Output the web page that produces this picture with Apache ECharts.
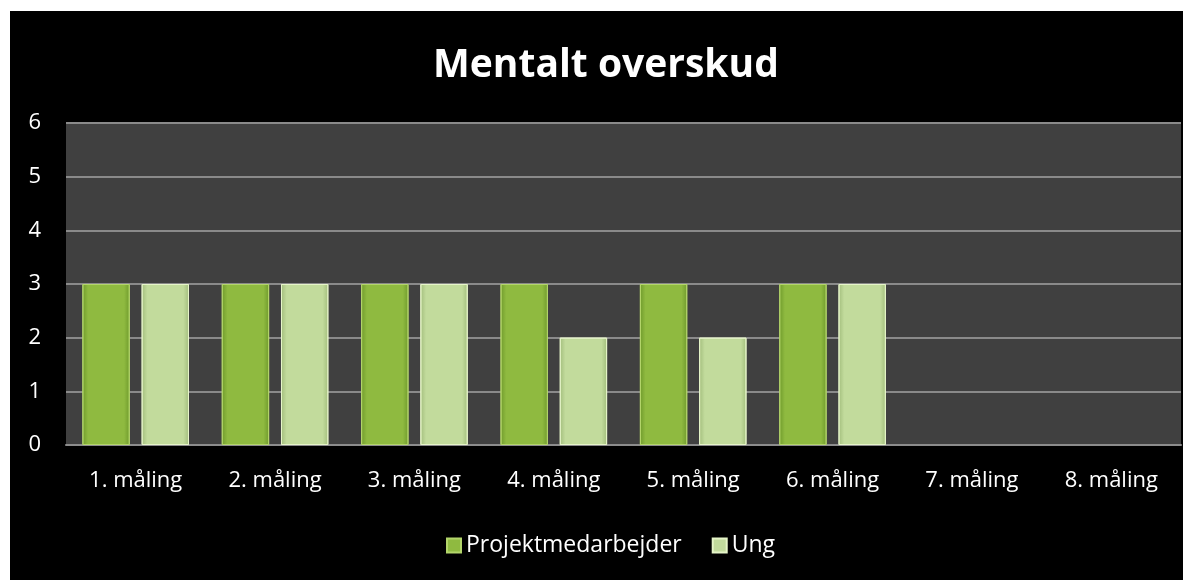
<!DOCTYPE html>
<html>
<head>
<meta charset="utf-8">
<script src="https://cdn.jsdelivr.net/npm/echarts@6/dist/echarts.min.js"></script>
<style>
  html, body { margin: 0; padding: 0; background: #ffffff; }
  #chart { position: absolute; left: 10px; top: 11px; width: 1173px; height: 569px; background: #000000; }
</style>
</head>
<body>
<div id="chart"></div>
<script>
const categories = ['1. måling', '2. måling', '3. måling', '4. måling', '5. måling', '6. måling', '7. måling', '8. måling'];
const projektmedarbejder = [3, 3, 3, 3, 3, 3, null, null];
const ung = [3, 3, 3, 2, 2, 3, null, null];
const yTicks = [0, 1, 2, 3, 4, 5, 6];

document.addEventListener('DOMContentLoaded', function() {
    const chart = echarts.init(document.getElementById('chart'));
    const font = '"Open Sans", sans-serif';

    function barFill(edge, mid) {
        return new echarts.graphic.LinearGradient(0, 0, 1, 0, [
            { offset: 0, color: edge },
            { offset: 0.12, color: mid },
            { offset: 0.88, color: mid },
            { offset: 1, color: edge }
        ]);
    }

    chart.setOption({
        backgroundColor: '#000000',
        title: {
            text: 'Mentalt overskud',
            left: 418,
            top: 30,
            textStyle: { color: '#ffffff', fontSize: 39, fontWeight: 'bold', fontFamily: font }
        },
        legend: {
            bottom: 18,
            left: 431,
            itemWidth: 14,
            itemHeight: 14,
            itemGap: 30,
            icon: 'rect',
            textStyle: { color: '#ffffff', fontSize: 23, fontFamily: font },
            data: ['Projektmedarbejder', 'Ung']
        },
        grid: {
            left: 56,
            right: 2,
            top: 112,
            bottom: 135,
            show: true,
            backgroundColor: '#404040',
            borderWidth: 0
        },
        xAxis: {
            type: 'category',
            data: categories,
            axisTick: { show: false },
            axisLine: { lineStyle: { color: '#8c8c8c', width: 2 } },
            axisLabel: { color: '#ffffff', fontSize: 22, fontFamily: font, margin: 25 }
        },
        yAxis: {
            type: 'value',
            min: yTicks[0],
            max: yTicks[yTicks.length - 1],
            interval: 1,
            axisLine: { show: false },
            axisTick: { show: false },
            axisLabel: { color: '#ffffff', fontSize: 22, fontFamily: font, margin: 25 },
            splitLine: { lineStyle: { color: '#8a8a8a', width: 2 } }
        },
        series: [
            {
                name: 'Projektmedarbejder',
                type: 'bar',
                data: projektmedarbejder,
                barWidth: '34%',
                barGap: '25%',
                itemStyle: {
                    color: barFill('#6f9a2c', '#8fba40'),
                    borderColor: '#b3d56a',
                    borderWidth: 1
                }
            },
            {
                name: 'Ung',
                type: 'bar',
                data: ung,
                barWidth: '34%',
                itemStyle: {
                    color: barFill('#a2bd7c', '#c2db9c'),
                    borderColor: '#e6f5c8',
                    borderWidth: 1
                }
            }
        ]
    });

    window.addEventListener('resize', function() {
        chart.resize();
    });
});
</script>
</body>
</html>
